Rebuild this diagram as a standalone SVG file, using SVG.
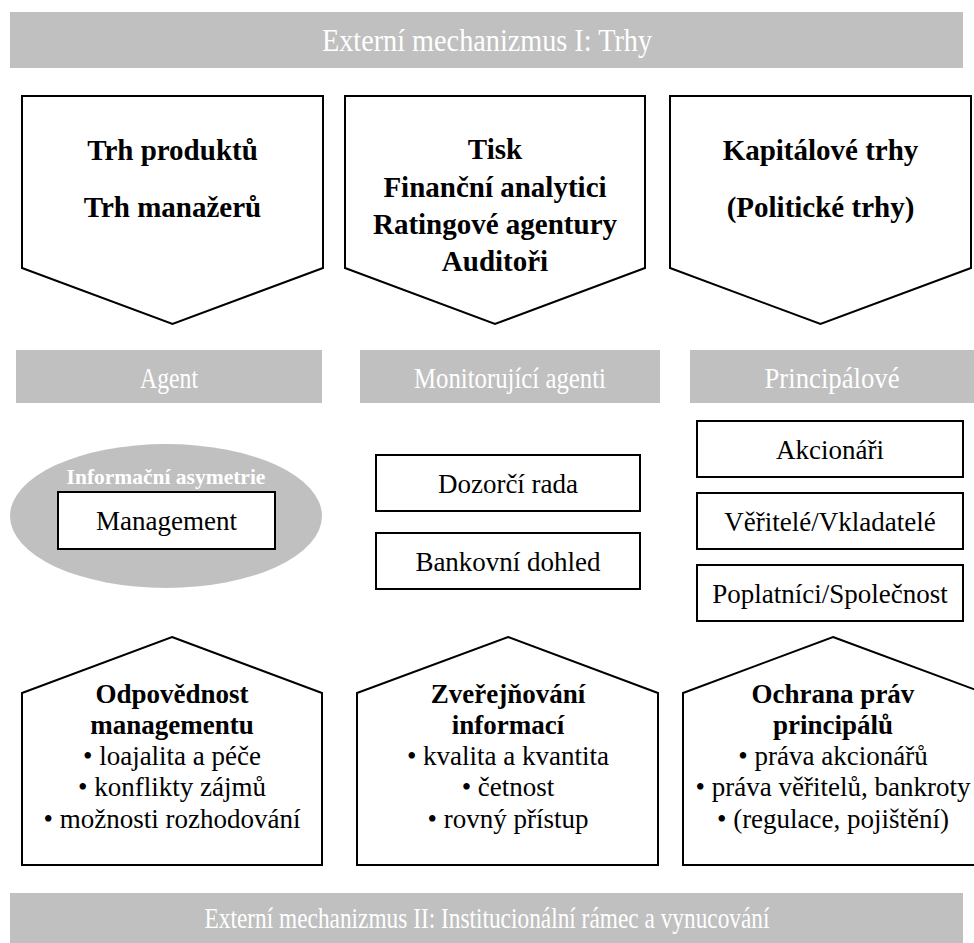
<svg xmlns="http://www.w3.org/2000/svg" width="974" height="943" viewBox="0 0 974 943">
<style>
.band{fill:#c0c0c0}
.bt{font-family:"Liberation Serif","Times New Roman",serif;fill:#fff;text-anchor:middle}
.box{fill:#fff;stroke:#000;stroke-width:2}
.t{font-family:"Liberation Serif","Times New Roman",serif;font-size:27px;fill:#000;text-anchor:middle}
.b{font-weight:bold}
.big{font-size:29px}
</style>
<rect width="974" height="943" fill="#fff"/>
<g id="band-top">
<rect class="band" x="10" y="12" width="953" height="56"/>
<text class="bt" x="487" y="51" font-size="32" textLength="330" lengthAdjust="spacingAndGlyphs">Externí mechanizmus I: Trhy</text>
</g>
<g id="market1">
<polygon class="box" points="22,96 323,96 323,268 172.5,324 22,268"/>
<text class="t b big" x="172.5" y="160">Trh produktů</text>
<text class="t b big" x="172.5" y="217">Trh manažerů</text>
</g>
<g id="market2">
<polygon class="box" points="345,96 645,96 645,268 495,324 345,268"/>
<text class="t b big" x="495" y="159">Tisk</text>
<text class="t b big" x="495" y="197">Finanční analytici</text>
<text class="t b big" x="495" y="234">Ratingové agentury</text>
<text class="t b big" x="495" y="271">Auditoři</text>
</g>
<g id="market3">
<polygon class="box" points="670,96 971,96 971,268 820.5,324 670,268"/>
<text class="t b big" x="820.5" y="160">Kapitálové trhy</text>
<text class="t b big" x="820.5" y="217">(Politické trhy)</text>
</g>
<g id="band-agent">
<rect class="band" x="16" y="350" width="306" height="53"/>
<text class="bt" x="169" y="388" font-size="30" textLength="58" lengthAdjust="spacingAndGlyphs">Agent</text>
</g>
<g id="band-monitor">
<rect class="band" x="360" y="350" width="300" height="53"/>
<text class="bt" x="510" y="388" font-size="30" textLength="192" lengthAdjust="spacingAndGlyphs">Monitorující agenti</text>
</g>
<g id="band-principal">
<rect class="band" x="690" y="350" width="284" height="53"/>
<text class="bt" x="832" y="388" font-size="30" textLength="135" lengthAdjust="spacingAndGlyphs">Principálové</text>
</g>
<g id="agent">
<ellipse cx="166" cy="516" rx="156" ry="72" fill="#c0c0c0"/>
<text class="bt b" x="166" y="484" font-size="21.5">Informační asymetrie</text>
<rect class="box" x="58" y="492" width="217" height="57"/>
<text class="t" x="166.5" y="530">Management</text>
</g>
<g id="dozorci-rada">
<rect class="box" x="376" y="455" width="264" height="56"/>
<text class="t" x="508" y="493">Dozorčí rada</text>
</g>
<g id="bankovni-dohled">
<rect class="box" x="376" y="533" width="264" height="56"/>
<text class="t" x="508" y="571">Bankovní dohled</text>
</g>
<g id="akcionari">
<rect class="box" x="697" y="421" width="266" height="56"/>
<text class="t" x="830" y="459">Akcionáři</text>
</g>
<g id="veritele">
<rect class="box" x="697" y="493" width="266" height="56"/>
<text class="t" x="830" y="531">Věřitelé/Vkladatelé</text>
</g>
<g id="poplatnici">
<rect class="box" x="697" y="565" width="266" height="56"/>
<text class="t" x="830" y="603">Poplatníci/Společnost</text>
</g>
<g id="inst1">
<polygon class="box" points="172,637 322,693 322,865 22,865 22,693"/>
<text class="t b" x="172" y="703">Odpovědnost</text>
<text class="t b" x="172" y="734">managementu</text>
<text class="t" x="172" y="765">• loajalita a péče</text>
<text class="t" x="172" y="796">• konflikty zájmů</text>
<text class="t" x="172" y="828">• možnosti rozhodování</text>
</g>
<g id="inst2">
<polygon class="box" points="508,637 658,693 658,865 357,865 357,693"/>
<text class="t b" x="508" y="703">Zveřejňování</text>
<text class="t b" x="508" y="734">informací</text>
<text class="t" x="508" y="765">• kvalita a kvantita</text>
<text class="t" x="508" y="796">• četnost</text>
<text class="t" x="508" y="828">• rovný přístup</text>
</g>
<g id="inst3">
<polygon class="box" points="833,637 984,693 984,865 683,865 683,693"/>
<text class="t b" x="833" y="703">Ochrana práv</text>
<text class="t b" x="833" y="734">principálů</text>
<text class="t" x="833" y="765">• práva akcionářů</text>
<text class="t" x="833" y="796">• práva věřitelů, bankroty</text>
<text class="t" x="833" y="828">• (regulace, pojištění)</text>
</g>
<g id="band-bottom">
<rect class="band" x="10" y="893" width="953" height="50"/>
<text class="bt" x="487" y="928" font-size="30" textLength="565" lengthAdjust="spacingAndGlyphs">Externí mechanizmus II: Institucionální rámec a vynucování</text>
</g>
<g id="connectors"></g>
</svg>
